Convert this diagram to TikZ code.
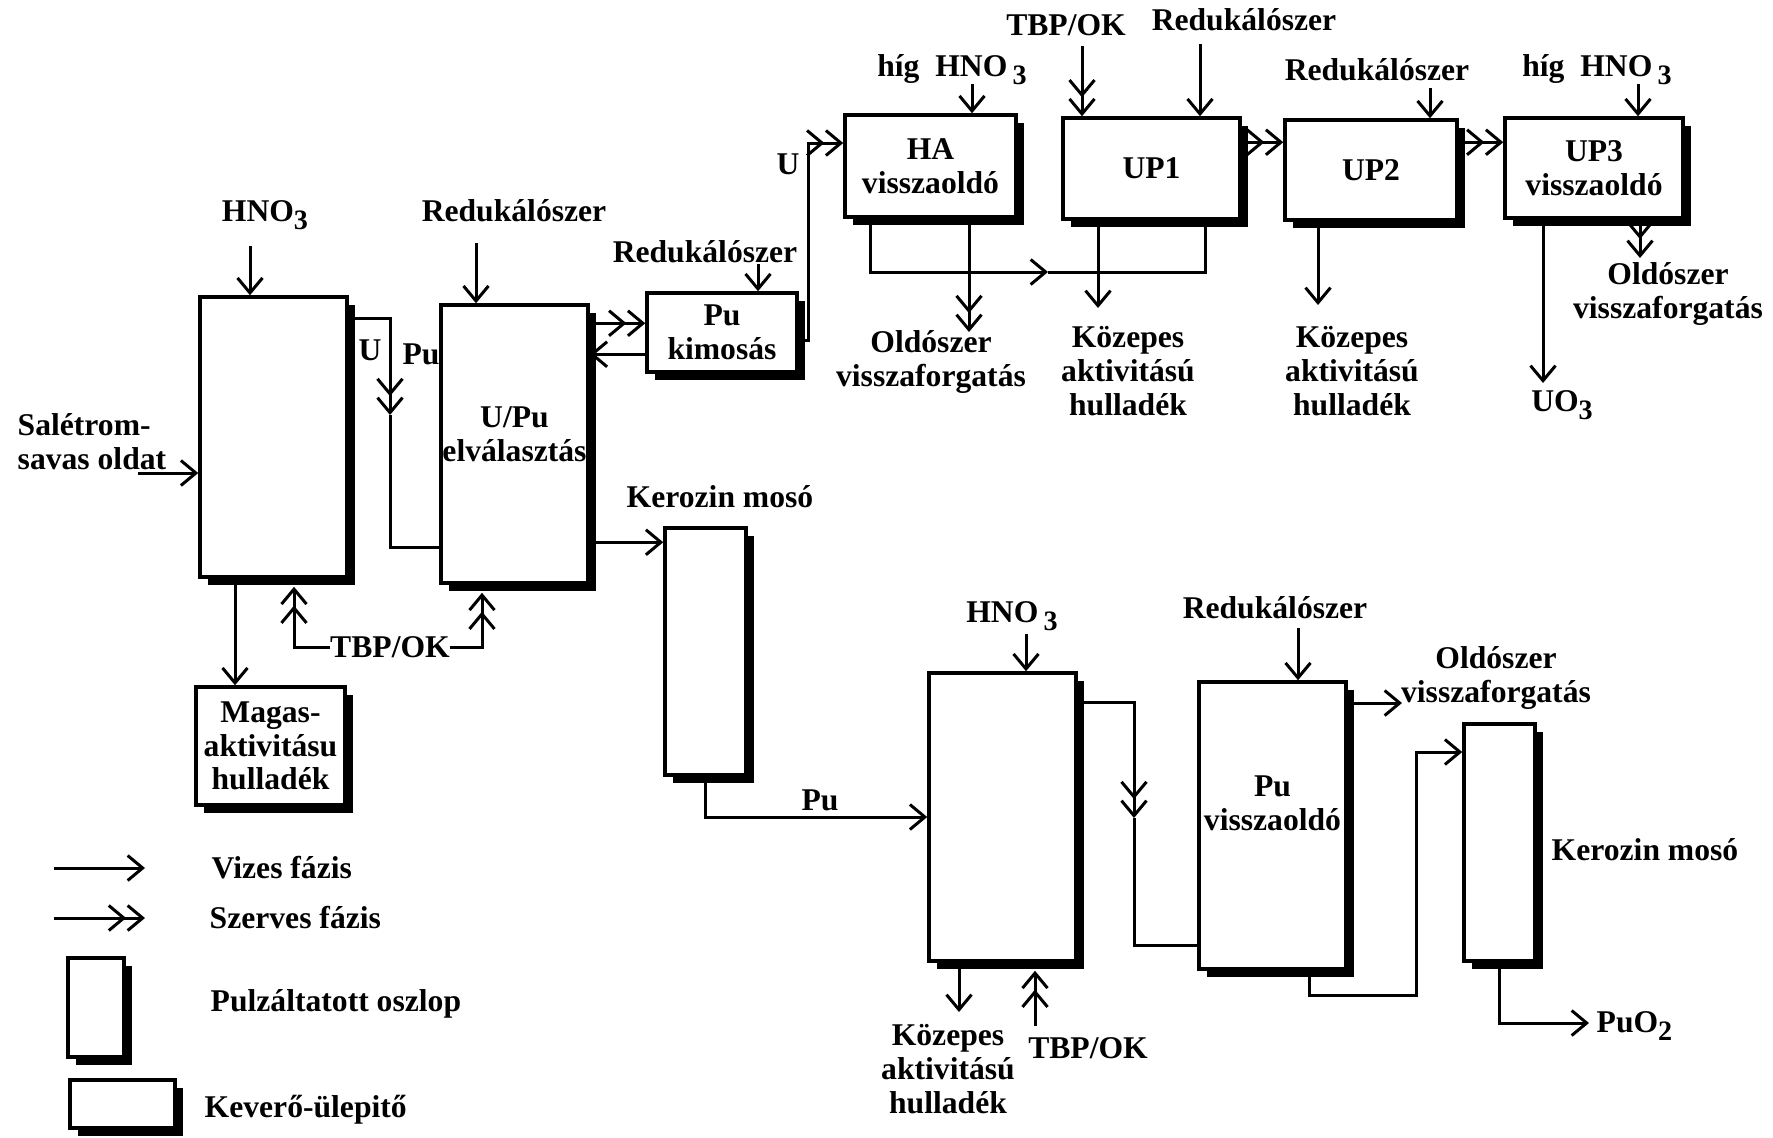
\documentclass[tikz,border=0pt]{standalone}
\usepackage{fontspec}
\setmainfont{Liberation Serif}
\usetikzlibrary{arrows.meta,shadows}

\newcommand{\idx}[1]{\raisebox{-0.55ex}{\fontsize{8}{8}\selectfont #1}}

\begin{document}
\begin{tikzpicture}[
		x=1mm, y=-1mm,
		font=\fontsize{9}{9.6}\selectfont\bfseries,
		unit/.style={
			draw,
			line width=0.35mm,
			fill=white,
			inner sep=0pt,
			align=center,
			drop shadow={shadow xshift=0.8mm,shadow yshift=-0.8mm,fill=black,opacity=1}
		},
		lbl/.style={
			inner sep=0pt,
			align=center
		},
		pipe/.style={
			line width=0.3mm
		},
		aq/.style={
			pipe,
			-{Straight Barb[length=1.5mm,width=2.5mm]}
		},
		org/.style={
			pipe,
			-{Straight Barb[length=1.5mm,width=2.5mm]Straight Barb[length=1.5mm,width=2.5mm]}
		}
	]
		\useasboundingbox (0,0) rectangle (177.3,113.7);

		% uranium / plutonium cycle
		\node[unit,minimum width=14.7mm,minimum height=28mm] (ext) at (27.35,43.7) {};
		\node[unit,minimum width=14.7mm,minimum height=27.8mm,text depth=2mm] (sep) at (51.45,44.4) {U/Pu\\elválasztás};
		\node[unit,minimum width=14.9mm,minimum height=11.8mm] (hlw) at (27.05,74.6) {Magas-\\aktivitásu\\hulladék};
		\node[unit,minimum width=15mm,minimum height=7.9mm] (wash) at (72.2,33.25) {Pu\\kimosás};
		\node[unit,minimum width=17.1mm,minimum height=10.2mm] (ha) at (93.05,16.6) {HA\\visszaoldó};
		\node[unit,minimum width=17.7mm,minimum height=10.1mm] (up1) at (115.15,16.85) {UP1};
		\node[unit,minimum width=17.2mm,minimum height=10mm] (up2) at (137.1,17.0) {UP2};
		\node[unit,minimum width=17.8mm,minimum height=10mm] (up3) at (159.4,16.8) {UP3\\visszaoldó};
		\node[unit,minimum width=8.1mm,minimum height=24.7mm] (kw1) at (70.55,65.15) {};
		\node[unit,minimum width=14.7mm,minimum height=28.8mm] (pu1) at (100.25,81.7) {};
		\node[unit,minimum width=14.7mm,minimum height=28.7mm,text depth=4.5mm] (pu2) at (127.25,82.55) {Pu\\visszaoldó};
		\node[unit,minimum width=7.1mm,minimum height=23.7mm] (kw2) at (149.95,84.25) {};

		\node[lbl] (hno1) at (26.5,21.5) {HNO\idx{3}};
		\node[lbl,anchor=west,align=left] (feed) at (1.7,44.2) {Salétrom-\\savas oldat};
		\node[lbl] (red1) at (51.4,21.1) {Redukálószer};
		\node[lbl] (tbp1) at (39.0,64.7) {TBP/OK};
		\node[lbl] (lu) at (37.0,35.0) {U};
		\node[lbl] (lpu) at (42.1,35.4) {Pu};
		\node[lbl] (red2) at (70.5,25.2) {Redukálószer};
		\node[lbl] (lu2) at (78.8,16.4) {U};
		\node[lbl] (hig1) at (95.2,7.0) {híg\ \ HNO\,\idx{3}};
		\node[lbl] (tbp2) at (106.6,2.5) {TBP/OK};
		\node[lbl] (red3) at (124.4,2.0) {Redukálószer};
		\node[lbl] (red4) at (137.7,7.0) {Redukálószer};
		\node[lbl] (hig2) at (159.7,7.0) {híg\ \ HNO\,\idx{3}};
		\node[lbl] (solv1) at (93.1,36.2) {Oldószer\\visszaforgatás};
		\node[lbl] (mlw1) at (112.8,37.1) {Közepes\\aktivitású\\hulladék};
		\node[lbl] (mlw2) at (135.2,37.1) {Közepes\\aktivitású\\hulladék};
		\node[lbl] (solv2) at (166.8,29.4) {Oldószer\\visszaforgatás};
		\node[lbl] (uo3) at (156.2,40.5) {UO\idx{3}};

		% plutonium line
		\node[lbl] (kerl1) at (72.0,49.7) {Kerozin mosó};
		\node[lbl] (lpu2) at (82.0,80.0) {Pu};
		\node[lbl] (hno2) at (101.2,61.6) {HNO\,\idx{3}};
		\node[lbl] (mlw3) at (94.8,106.9) {Közepes\\aktivitású\\hulladék};
		\node[lbl] (tbp3) at (108.8,104.8) {TBP/OK};
		\node[lbl] (red5) at (127.5,60.8) {Redukálószer};
		\node[lbl] (solv3) at (149.6,67.8) {Oldószer\\visszaforgatás};
		\node[lbl] (kerl2) at (164.5,85.0) {Kerozin mosó};
		\node[lbl,anchor=west] (puo2) at (159.6,102.6) {PuO\idx{2}};

		% legend
		\node[unit,minimum width=5.6mm,minimum height=9.9mm] (lgcol) at (9.6,100.75) {};
		\node[unit,minimum width=10.5mm,minimum height=4.8mm] (lgmix) at (12.25,110.4) {};
		\node[lbl,anchor=west] (lg1) at (21.1,86.8) {Vizes fázis};
		\node[lbl,anchor=west] (lg2) at (20.9,91.8) {Szerves fázis};
		\node[lbl,anchor=west] (lg3) at (21.0,100.4) {Pulzáltatott oszlop};
		\node[lbl,anchor=west] (lg4) at (20.4,111.0) {Keverő-ülepitő};

		\coordinate (a1) at (5.4,86.8);
		\coordinate (a2) at (14.5,86.8);
		\coordinate (a3) at (5.4,91.8);
		\coordinate (a4) at (14.5,91.8);
		\draw[aq] (a1) -- (a2);
		\draw[org] (a3) -- (a4);

		% feeds and streams, first cycle
		\coordinate (f1) at (25.0,24.6);
		\coordinate (f2) at (13.8,47.3);
		\coordinate (x1) at (23.5,0);
		\coordinate (x2) at (29.4,0);
		\coordinate (x3) at (48.2,0);
		\coordinate (r1) at (47.6,24.3);
		\coordinate (b1) at (39.0,41.5);
		\draw[aq] (f1) -- (f1 |- ext.north);
		\draw[aq] (f2) -- (f2 -| ext.west);
		\draw[aq] (ext.south -| x1) -- (hlw.north -| x1);
		\draw[org,shorten >=0.8mm] (tbp1.west) -| (ext.south -| x2);
		\draw[org,shorten >=0.8mm] (tbp1.east) -| (sep.south -| x3);
		\draw[aq] (r1) -- (r1 |- sep.north);
		\draw[org] ([yshift=-2.3mm]ext.north east) -| (b1);
		\draw[pipe] (b1) |- ([yshift=3.7mm]sep.south west);

		\coordinate (w1) at ([yshift=-3.2mm]wash.north west);
		\coordinate (w2) at ([yshift=-6.3mm]wash.north west);
		\coordinate (r2) at (75.8,26.4);
		\coordinate (u1) at (80.8,14.3);
		\draw[org] (w1 -| sep.east) -- (w1);
		\draw[aq] (w2) -- (w2 -| sep.east);
		\draw[aq] (r2) -- (r2 |- wash.north);
		\draw[org] ([yshift=-4.9mm]wash.north east) -| (u1) -- (u1 -| ha.west);

		% HA and UP mixer-settlers
		\coordinate (g1) at (97.2,8.4);
		\coordinate (h1) at (87.0,27.2);
		\coordinate (h2) at (104.8,27.2);
		\coordinate (h3) at (120.5,0);
		\coordinate (s1) at (96.9,33.2);
		\coordinate (k1) at (109.8,30.8);
		\coordinate (t2) at (108.2,4.6);
		\coordinate (r3) at (120.0,4.4);
		\draw[aq] (g1) -- (g1 |- ha.north);
		\draw[aq] (ha.south -| h1) -- (h1) -- (h2);
		\draw[pipe] (h2) -| (up1.south -| h3);
		\draw[org] (ha.south -| s1) -- (s1);
		\draw[aq] (up1.south -| k1) -- (k1);
		\draw[org] (t2) -- (t2 |- up1.north);
		\draw[aq] (r3) -- (r3 |- up1.north);

		\coordinate (m1) at ([yshift=-2.4mm]up2.north west);
		\coordinate (m2) at ([yshift=-2.4mm]up2.north east);
		\coordinate (r4) at (143.0,8.8);
		\coordinate (k2) at (131.8,30.5);
		\coordinate (g2) at (163.8,8.4);
		\coordinate (s2) at (164.0,25.8);
		\coordinate (k3) at (154.3,38.3);
		\draw[org] (m1 -| up1.east) -- (m1);
		\draw[org] (m2) -- (m2 -| up3.west);
		\draw[aq] (r4) -- (r4 |- up2.north);
		\draw[aq] (up2.south -| k2) -- (k2);
		\draw[aq] (g2) -- (g2 |- up3.north);
		\draw[org] (up3.south -| s2) -- (s2);
		\draw[aq] (up3.south -| k3) -- (k3);

		% plutonium purification
		\coordinate (n1) at ([yshift=-1.6mm]kw1.north west);
		\coordinate (g3) at (102.6,63.4);
		\coordinate (k4) at (95.9,101.2);
		\coordinate (t3) at (103.5,102.6);
		\coordinate (b2) at (113.4,81.8);
		\draw[aq] (n1 -| sep.east) -- (n1);
		\draw[aq] (kw1.south) |- (pu1.west);
		\draw[aq] (g3) -- (g3 |- pu1.north);
		\draw[aq] (pu1.south -| k4) -- (k4);
		\draw[org,shorten >=0.8mm] (t3) -- (t3 |- pu1.south);
		\draw[org] ([yshift=-3.1mm]pu1.north east) -| (b2);
		\draw[pipe] (b2) |- ([yshift=2.5mm]pu2.south west);

		\coordinate (r5) at (129.8,62.8);
		\coordinate (s3) at (140.2,70.3);
		\coordinate (q1) at (130.9,99.5);
		\coordinate (q2) at (141.6,75.2);
		\coordinate (q3) at (158.9,102.3);
		\draw[aq] (r5) -- (r5 |- pu2.north);
		\draw[aq] (s3 -| pu2.east) -- (s3);
		\draw[aq] (pu2.south -| q1) -- (q1) -| (q2) -- (q2 -| kw2.west);
		\draw[aq] (kw2.south) |- (q3);
	\end{tikzpicture}
\end{document}
